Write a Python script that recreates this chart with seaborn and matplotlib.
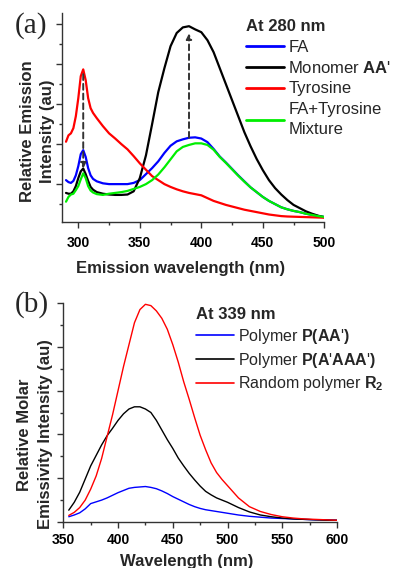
import numpy as np
import pandas as pd
import matplotlib
matplotlib.use('Agg')
import matplotlib.pyplot as plt
from matplotlib.ticker import MultipleLocator
import seaborn as sns

# ---- panel (a) data: excitation at 280 nm ----
wl_a = [290, 292, 294, 296, 298, 300, 302, 304, 306, 308, 310, 312, 315, 320, 325,
        330, 335, 340, 345, 350, 355, 360, 365, 370, 375, 380, 385, 390, 395, 400,
        405, 410, 415, 420, 425, 430, 435, 440, 445, 450, 455, 460, 465, 470, 475,
        480, 485, 490, 495, 500]
fa_a = [1.1, 1.05, 1.03, 1.08, 1.22, 1.45, 1.75, 1.85, 1.68, 1.4, 1.22, 1.13, 1.07, 1.02, 1.0,
        1.0, 1.0, 1.0, 1.03, 1.1, 1.25, 1.4, 1.57, 1.78, 1.96, 2.07, 2.12, 2.16, 2.17, 2.14,
        2.05, 1.88, 1.69, 1.54, 1.38, 1.22, 1.07, 0.92, 0.8, 0.68, 0.58, 0.5, 0.42, 0.37, 0.33,
        0.3, 0.26, 0.23, 0.2, 0.18]
monomer_a = [0.78, 0.76, 0.76, 0.82, 0.95, 1.15, 1.32, 1.39, 1.25, 1.08, 0.93, 0.86, 0.8, 0.76, 0.74,
             0.73, 0.73, 0.74, 0.82, 1.15, 1.72, 2.5, 3.3, 3.9, 4.45, 4.78, 4.92, 4.95, 4.87, 4.8,
             4.6, 4.3, 3.9, 3.5, 3.1, 2.7, 2.3, 1.95, 1.63, 1.35, 1.1, 0.9, 0.74, 0.6, 0.48,
             0.4, 0.32, 0.26, 0.21, 0.17]
tyrosine_a = [2.06, 2.22, 2.27, 2.4, 2.7, 3.15, 3.7, 3.87, 3.6, 3.15, 2.9, 2.78, 2.65, 2.45, 2.27,
              2.14, 2.0, 1.87, 1.7, 1.52, 1.36, 1.2, 1.1, 1.0, 0.93, 0.87, 0.82, 0.78, 0.75, 0.72,
              0.65, 0.58, 0.53, 0.48, 0.44, 0.4, 0.36, 0.33, 0.3, 0.27, 0.24, 0.22, 0.2, 0.19, 0.185,
              0.18, 0.175, 0.17, 0.165, 0.16]
mixture_a = [0.56, 0.68, 0.74, 0.76, 0.85, 0.95, 1.12, 1.27, 1.15, 0.95, 0.84, 0.79, 0.75, 0.73, 0.76,
             0.78, 0.8, 0.83, 0.88, 0.93, 1.0, 1.1, 1.24, 1.42, 1.62, 1.82, 1.93, 1.98, 2.02, 2.02,
             1.98, 1.86, 1.68, 1.53, 1.37, 1.21, 1.06, 0.92, 0.8, 0.68, 0.58, 0.5, 0.42, 0.37, 0.33,
             0.3, 0.26, 0.23, 0.2, 0.18]

# ---- panel (b) data: excitation at 339 nm ----
wl_b = [355, 360, 365, 370, 375, 380, 385, 390, 395, 400, 405, 410, 415, 420, 425, 430, 435, 440,
        445, 450, 455, 460, 465, 470, 475, 480, 485, 490, 495, 500, 510, 520, 530, 540, 550, 560,
        570, 580, 590, 600]
p_aa_b = [0.12, 0.16, 0.21, 0.3, 0.42, 0.46, 0.5, 0.55, 0.61, 0.67, 0.72, 0.77, 0.79, 0.8, 0.81, 0.79,
          0.76, 0.71, 0.65, 0.58, 0.52, 0.46, 0.4, 0.35, 0.31, 0.28, 0.26, 0.24, 0.22, 0.2, 0.16, 0.13,
          0.11, 0.09, 0.08, 0.07, 0.06, 0.05, 0.05, 0.04]
p_aaaa_b = [0.27, 0.45, 0.68, 0.98, 1.28, 1.52, 1.76, 1.97, 2.14, 2.32, 2.47, 2.58, 2.63, 2.63, 2.58,
            2.5, 2.32, 2.1, 1.88, 1.68, 1.46, 1.28, 1.11, 0.96, 0.82, 0.7, 0.62, 0.55, 0.5, 0.45, 0.33,
            0.23, 0.16, 0.12, 0.09, 0.07, 0.06, 0.05, 0.04, 0.04]
r2_b = [0.15, 0.22, 0.33, 0.5, 0.75, 1.05, 1.45, 1.95, 2.45, 3.0, 3.55, 4.05, 4.55, 4.85, 4.97, 4.94,
        4.82, 4.65, 4.4, 4.05, 3.65, 3.2, 2.8, 2.38, 1.98, 1.65, 1.35, 1.13, 0.97, 0.83, 0.55, 0.35,
        0.24, 0.17, 0.12, 0.09, 0.07, 0.06, 0.05, 0.04]

labels_a = ['FA', "Monomer $\\mathbf{AA}$'", 'Tyrosine', 'FA+Tyrosine\nMixture']
colors_a = ['#0000ff', '#000000', '#ff0000', '#00ee00']
labels_b = ["Polymer $\\mathbf{P(AA}$'$\\mathbf{)}$",
            "Polymer $\\mathbf{P(A}$'$\\mathbf{AAA}$'$\\mathbf{)}$",
            'Random polymer $\\mathbf{R_2}$']
colors_b = ['#0000ff', '#000000', '#ff0000']

sns.set_theme(style='ticks')
plt.rcParams['font.family'] = ['Liberation Sans', 'DejaVu Sans']
plt.rcParams['mathtext.fontset'] = 'custom'
plt.rcParams['mathtext.rm'] = 'Liberation Sans'
plt.rcParams['mathtext.bf'] = 'Liberation Sans:bold'
plt.rcParams['mathtext.it'] = 'Liberation Sans:italic'

W, H = 395, 568
fig = plt.figure(figsize=(W / 100, H / 100), dpi=100)
ax1 = fig.add_axes([61.7 / W, 1 - 221.7 / H, (324.3 - 61.7) / W, (221.7 - 13) / H])
ax2 = fig.add_axes([63.3 / W, 1 - 522 / H, (337 - 63.3) / W, (522 - 303) / H])

df_a = pd.DataFrame({'wl': wl_a, 'fa': fa_a, 'mono': monomer_a, 'tyr': tyrosine_a, 'mix': mixture_a})
for col, lab, c in zip(['fa', 'mono', 'tyr', 'mix'], labels_a, colors_a):
    sns.lineplot(data=df_a, x='wl', y=col, ax=ax1, color=c, lw=1.6, label=lab)

df_b = pd.DataFrame({'wl': wl_b, 'paa': p_aa_b, 'paaaa': p_aaaa_b, 'r2': r2_b})
for col, lab, c in zip(['paa', 'paaaa', 'r2'], labels_b, colors_b):
    sns.lineplot(data=df_b, x='wl', y=col, ax=ax2, color=c, lw=1.0, label=lab)

# dashed arrows between the peaks
tyr = np.array(tyrosine_a)
mono = np.array(monomer_a)
fa = np.array(fa_a)
i = tyr.argmax()
ax1.annotate('', xy=(wl_a[i], mono[i]), xytext=(wl_a[i], tyr[i] - 0.12),
             arrowprops=dict(arrowstyle='-|>', color='#333333', lw=1.4, ls=(0, (3, 2)),
                             mutation_scale=8, shrinkA=0, shrinkB=0))
j = mono.argmax()
ax1.annotate('', xy=(wl_a[j], mono[j] - 0.18), xytext=(wl_a[j], fa[j]),
             arrowprops=dict(arrowstyle='-|>', color='#333333', lw=1.4, ls=(0, (3, 2)),
                             mutation_scale=8, shrinkA=0, shrinkB=0))

ax1.set_xlim(286.5, 500)
ax1.set_ylim(0.06, 5.28)
ax2.set_xlim(350, 600)
ax2.set_ylim(0, 5)

for ax in (ax1, ax2):
    sns.despine(ax=ax)
    for s in ('left', 'bottom'):
        ax.spines[s].set_color('#333333')
        ax.spines[s].set_linewidth(1.0)
    ax.xaxis.set_major_locator(MultipleLocator(50))
    ax.xaxis.set_minor_locator(MultipleLocator(25))
    ax.yaxis.set_major_locator(MultipleLocator(1))
    ax.yaxis.set_minor_locator(MultipleLocator(0.5))
    ax.tick_params(which='major', length=4, width=1, color='#333333', labelsize=10,
                   labelcolor='black', direction='out')
    ax.tick_params(which='minor', length=2.5, width=1, color='#333333', direction='out')
    ax.tick_params(axis='y', labelleft=False)
    plt.setp(ax.get_xticklabels(), fontweight='bold')

ax1.tick_params(axis='x', pad=6)
ax2.tick_params(axis='x', pad=4)

ax1.set_xlabel('Emission wavelength (nm)', fontsize=12, fontweight='bold')
ax1.xaxis.set_label_coords(0.454, -0.19)
ax1.set_ylabel('Relative Emission\nIntensity (au)', fontsize=12, fontweight='bold', linespacing=1.45)
ax1.yaxis.set_label_coords(-0.025, 0.435)

ax2.set_xlabel('Wavelength (nm)', fontsize=12, fontweight='bold')
ax2.xaxis.set_label_coords(0.452, -0.145)
ax2.set_ylabel('Relative Molar\nEmissivity Intensity (au)', fontsize=12, fontweight='bold', linespacing=1.45)
ax2.yaxis.set_label_coords(-0.038, 0.40)

leg1 = ax1.legend(title='At 280 nm', loc='upper left', bbox_to_anchor=(246 / W, 1 - 19 / H),
                  bbox_transform=fig.transFigure, frameon=False, borderpad=0, borderaxespad=0,
                  handlelength=2.3, handletextpad=0.25, labelspacing=0.33, fontsize=12,
                  title_fontproperties={'weight': 'bold', 'size': 12}, alignment='left')
for t in leg1.get_texts():
    t.set_linespacing(1.4)
for h in leg1.get_lines():
    h.set_linewidth(2.0)

leg2 = ax2.legend(title='At 339 nm', loc='upper left', bbox_to_anchor=(196 / W, 1 - 307 / H),
                  bbox_transform=fig.transFigure, frameon=False, borderpad=0, borderaxespad=0,
                  handlelength=2.4, handletextpad=0.25, labelspacing=0.3, fontsize=11.5,
                  title_fontproperties={'weight': 'bold', 'size': 12}, alignment='left')
for h in leg2.get_lines():
    h.set_linewidth(1.2)

fig.text(15 / W, 1 - 26 / H, '(a)', family=['Liberation Serif', 'DejaVu Serif'], fontsize=21, va='center')
fig.text(15 / W, 1 - 305 / H, '(b)', family=['Liberation Serif', 'DejaVu Serif'], fontsize=21, va='center')

fig.savefig('out.png', dpi=100)
